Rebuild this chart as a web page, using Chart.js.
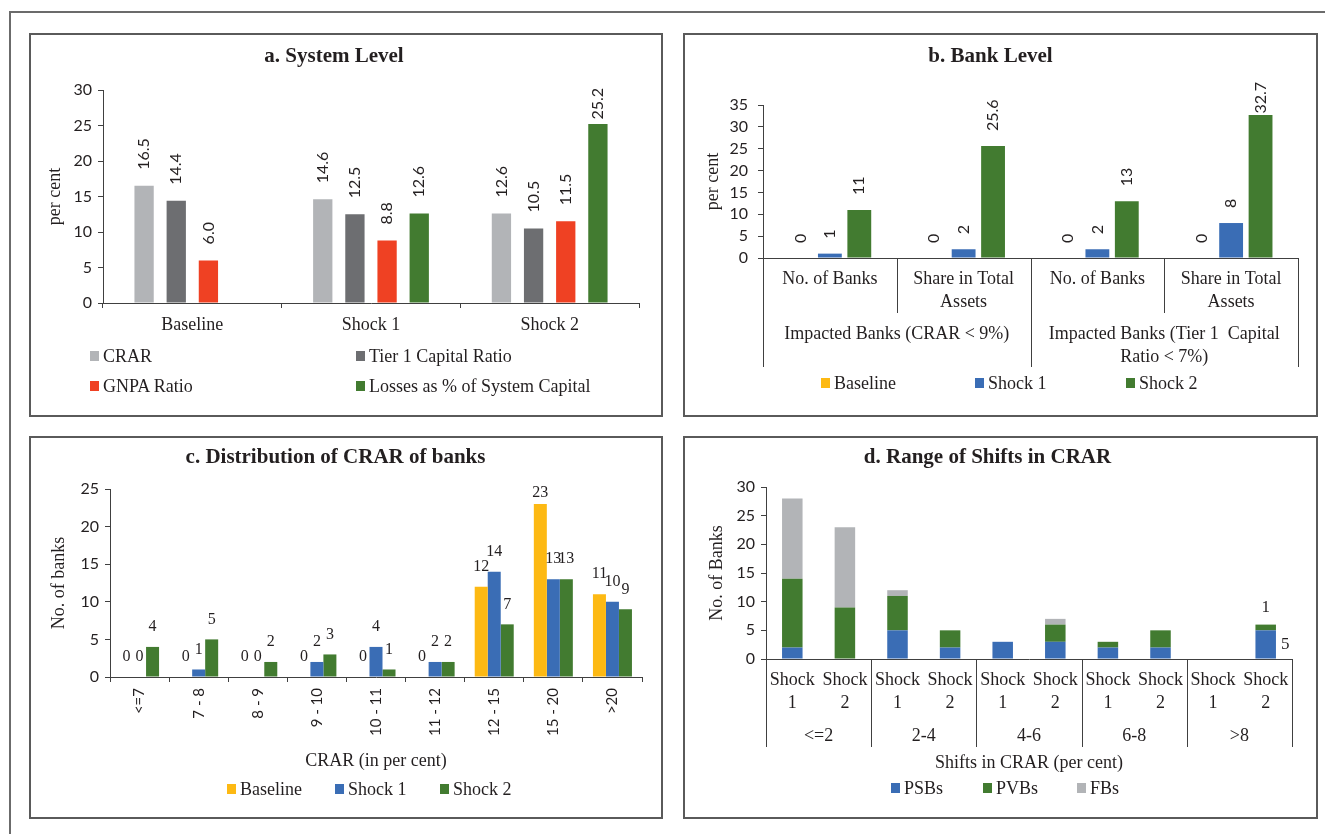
<!DOCTYPE html>
<html>
<head>
<meta charset="utf-8">
<script src="https://cdn.jsdelivr.net/npm/chart.js@4.4.1/dist/chart.umd.min.js"></script>
<style>
  html, body { margin: 0; padding: 0; background: #ffffff; }
  body { width: 1325px; height: 834px; overflow: hidden; position: relative;
         font-family: "Liberation Serif", serif; color: #231f20; }
  .frame { position: absolute; left: 9px; top: 11px; width: 1400px; height: 900px;
           border-left: 2px solid #6b6b6b; border-top: 2px solid #6b6b6b; }
  .panel { position: absolute; border: 2px solid #5a5a5a; box-sizing: border-box; pointer-events: none; }
  canvas { position: absolute; }
  .leg { position: absolute; display: flex; align-items: center; height: 20px;
         font-size: 18px; white-space: nowrap; color: #231f20; }
  .leg i { display: inline-block; width: 9px; height: 10px; margin-right: 4px; }
</style>
</head>
<body>
<div class="frame"></div>
<canvas id="ca" width="616" height="383" style="left:29px;top:33px"></canvas>
<canvas id="cb" width="634" height="383" style="left:683px;top:33px"></canvas>
<canvas id="cc" width="633" height="382" style="left:29px;top:436px"></canvas>
<canvas id="cd" width="634" height="382" style="left:683px;top:436px"></canvas>
<div class="panel" style="left:29px;top:33px;width:634px;height:384px"></div>
<div class="panel" style="left:683px;top:33px;width:635px;height:384px"></div>
<div class="panel" style="left:29px;top:436px;width:634px;height:383px"></div>
<div class="panel" style="left:683px;top:436px;width:635px;height:383px"></div>
<script>
// ---------------- DATA ----------------
// a. System Level
const aCategories = ['Baseline', 'Shock 1', 'Shock 2'];
const aCRAR   = [16.5, 14.6, 12.6];
const aTier1  = [14.4, 12.5, 10.5];
const aGNPA   = [6.0, 8.8, 11.5];
const aLosses = [null, 12.6, 25.2];
const aTicks  = [0, 5, 10, 15, 20, 25, 30];

// b. Bank Level
const bCategories = [['No. of Banks'], ['Share in Total', 'Assets'], ['No. of Banks'], ['Share in Total', 'Assets']];
const bGroups     = [['Impacted Banks (CRAR < 9%)'], ['Impacted Banks (Tier 1  Capital', 'Ratio < 7%)']];
const bBaseline   = [0, 0, 0, 0];
const bShock1     = [1, 2, 2, 8];
const bShock2     = [11, 25.6, 13, 32.7];
const bTicks      = [0, 5, 10, 15, 20, 25, 30, 35];

// c. Distribution of CRAR of banks
const cCategories = ['<=7', '7 - 8', '8 - 9', '9 - 10', '10 - 11', '11 - 12', '12 - 15', '15 - 20', '>20'];
const cBaseline   = [0, 0, 0, 0, 0, 0, 12, 23, 11];
const cShock1     = [0, 1, 0, 2, 4, 2, 14, 13, 10];
const cShock2     = [4, 5, 2, 3, 1, 2, 7, 13, 9];
const cTicks      = [0, 5, 10, 15, 20, 25];

// d. Range of Shifts in CRAR
const dCategories = [['Shock', '1'], ['Shock', '2'], ['Shock', '1'], ['Shock', '2'], ['Shock', '1'],
                     ['Shock', '2'], ['Shock', '1'], ['Shock', '2'], ['Shock', '1'], ['Shock', '2']];
const dGroups = ['<=2', '2-4', '4-6', '6-8', '>8'];
const dPSBs   = [2, 0, 5, 2, 3, 3, 2, 2, 0, 5];
const dPVBs   = [12, 9, 6, 3, 0, 3, 1, 3, 0, 1];
const dFBs    = [14, 14, 1, 0, 0, 1, 0, 0, 0, 0];
const dTicks  = [0, 5, 10, 15, 20, 25, 30];
const dLabelled = [{dataset: 1, index: 9, place: 'top'}, {dataset: 0, index: 9, place: 'right'}];

// ---------------- STYLE ----------------
const TXT = '#231f20', AXIS = '#404040';
const C_LGRAY = '#b2b4b7', C_DGRAY = '#6d6e71', C_RED = '#ef4123', C_GREEN = '#427b30',
      C_YELLOW = '#fdb913', C_BLUE = '#3a6db5';
const SERIF = "'Liberation Serif', serif", SANS = "Lato, 'Liberation Sans', sans-serif";
const FS = 18;          // serif label size
const TFS = 21;         // title size

Chart.defaults.font.family = SERIF;
Chart.defaults.color = TXT;
Chart.defaults.animation = false;

// value labels
const barLabelPlugin = {
  id: 'barLabels',
  afterDatasetsDraw(chart, args, opts) {
    if (!opts || !opts.mode) return;
    const ctx = chart.ctx, area = chart.chartArea;
    ctx.save();
    ctx.fillStyle = opts.color || TXT;
    ctx.font = opts.font;
    chart.data.datasets.forEach((ds, di) => {
      const meta = chart.getDatasetMeta(di);
      meta.data.forEach((el, i) => {
        const v = ds.data[i];
        if (v === null || v === undefined) return;
        let place = opts.mode;
        if (opts.items) {
          const it = opts.items.find(t => t.dataset === di && t.index === i);
          if (!it) return;
          place = it.place;
        }
        const txt = opts.format ? opts.format(v) : String(v);
        if (place === 'rotated') {
          const len = ctx.measureText(txt).width;
          let start = el.y - opts.offset;
          if (opts.limitTop !== undefined && start - len < opts.limitTop) start = opts.limitTop + len;
          ctx.save();
          ctx.translate(el.x, start);
          ctx.rotate(-Math.PI / 2);
          ctx.textAlign = 'left'; ctx.textBaseline = 'middle';
          ctx.fillText(txt, 0, 0);
          ctx.restore();
        } else if (place === 'top') {
          const y = Math.max(el.y - opts.offset, area.top + (opts.minTop || 0));
          ctx.textAlign = 'center'; ctx.textBaseline = 'middle';
          ctx.fillText(txt, el.x, y);
        } else if (place === 'right') {
          ctx.textAlign = 'left'; ctx.textBaseline = 'middle';
          ctx.fillText(txt, el.x + el.width / 2 + (opts.sideGap || 6), (el.y + el.base) / 2);
        }
      });
    });
    ctx.restore();
  }
};

// separator lines of the multi-level category axis
const groupLinePlugin = {
  id: 'groupLines',
  afterDraw(chart, args, opts) {
    if (!opts || !opts.lengths) return;
    const sc = chart.scales.x;
    const n = sc.ticks.length;
    const p0 = sc.getPixelForValue(0), w = sc.getPixelForValue(1) - p0;
    const ctx = chart.ctx;
    ctx.save();
    ctx.strokeStyle = opts.color || AXIS;
    ctx.lineWidth = 1;
    for (let i = 0; i <= n; i++) {
      const len = opts.lengths[i];
      if (!len) continue;
      const x = Math.round(p0 - w / 2 + i * w) + 0.5;
      ctx.beginPath(); ctx.moveTo(x, sc.top); ctx.lineTo(x, sc.top + len); ctx.stroke();
    }
    ctx.restore();
  }
};

function yScale(ticks, width) {
  return {
    min: ticks[0], max: ticks[ticks.length - 1],
    afterBuildTicks: s => { s.ticks = ticks.map(v => ({value: v})); },
    ticks: {font: {family: SANS, size: 16}, padding: 6, color: TXT, autoSkip: false},
    grid: {drawOnChartArea: false, tickLength: 5, color: AXIS},
    border: {color: AXIS},
    afterFit: s => { s.width = width; }
  };
}

function htmlLegend(chart, spots) {
  chart.data.datasets.forEach((ds, i) => {
    const item = document.createElement('div');
    item.className = 'leg';
    item.style.left = spots[i][0] + 'px';
    item.style.top = (spots[i][1] - 10) + 'px';
    const box = document.createElement('i');
    box.style.background = ds.backgroundColor;
    item.appendChild(box);
    item.appendChild(document.createTextNode(ds.label));
    document.body.appendChild(item);
  });
}

const noTip = {legend: {display: false}, tooltip: {enabled: false}};
const noGrid = {display: false, drawTicks: false, tickLength: 0};

// ---------------- a ----------------
const ya = yScale(aTicks, 74);
ya.title = {display: true, text: 'per cent', font: {size: FS}, padding: {top: 15, bottom: 0}, color: TXT};
const chartA = new Chart(document.getElementById('ca'), {
  type: 'bar',
  data: {
    labels: aCategories,
    datasets: [
      {label: 'CRAR', data: aCRAR, backgroundColor: C_LGRAY},
      {label: 'Tier 1  Capital Ratio', data: aTier1, backgroundColor: C_DGRAY},
      {label: 'GNPA Ratio', data: aGNPA, backgroundColor: C_RED},
      {label: 'Losses as % of System Capital', data: aLosses, backgroundColor: C_GREEN}
    ].map(d => Object.assign(d, {categoryPercentage: 0.72, barPercentage: 0.6}))
  },
  options: {
    responsive: false, animation: false, devicePixelRatio: 1,
    layout: {padding: {left: 0, right: 6, top: 0, bottom: 0}},
    plugins: Object.assign({}, noTip, {
      title: {display: true, text: 'a. System Level', font: {size: TFS, weight: 'bold'},
              padding: {top: 11.4, bottom: 20.4}, color: TXT},
      barLabels: {mode: 'rotated', offset: 16, limitTop: 55, font: '16px ' + SANS, format: v => v.toFixed(1)}
    }),
    scales: {
      x: {
        grid: {drawOnChartArea: false, tickLength: 5, color: AXIS, offset: true},
        border: {color: AXIS},
        ticks: {font: {size: FS}, padding: 6, color: TXT, maxRotation: 0},
        afterFit: s => { s.height = 113; }
      },
      y: ya
    }
  },
  plugins: [barLabelPlugin]
});
htmlLegend(chartA, [[90, 356], [356, 356], [90, 386], [356, 386]]);

// ---------------- b ----------------
const yb = yScale(bTicks, 80);
yb.ticks.padding = 10;
yb.title = {display: true, text: 'per cent', font: {size: FS}, padding: {top: 19, bottom: 0}, color: TXT};
const chartB = new Chart(document.getElementById('cb'), {
  type: 'bar',
  data: {
    labels: bCategories,
    datasets: [
      {label: 'Baseline', data: bBaseline, backgroundColor: C_YELLOW},
      {label: 'Shock 1', data: bShock1, backgroundColor: C_BLUE},
      {label: 'Shock 2', data: bShock2, backgroundColor: C_GREEN}
    ].map(d => Object.assign(d, {xAxisID: 'x', categoryPercentage: 0.66, barPercentage: 0.81}))
  },
  options: {
    responsive: false, animation: false, devicePixelRatio: 1,
    layout: {padding: {left: 0, right: 19, top: 0, bottom: 0}},
    plugins: Object.assign({}, noTip, {
      title: {display: true, text: 'b. Bank Level', font: {size: TFS, weight: 'bold'},
              padding: {top: 11.4, bottom: 35.4}, color: TXT},
      barLabels: {mode: 'rotated', offset: 15, limitTop: 49, font: '16px ' + SANS, format: v => String(v)},
      groupLines: {lengths: [109, 55, 109, 55, 109], color: AXIS}
    }),
    scales: {
      x: {
        weight: 0, offset: true,
        grid: noGrid,
        border: {color: AXIS},
        ticks: {font: {size: FS, lineHeight: 1.28}, padding: 9.5, color: TXT, maxRotation: 0, autoSkip: false},
        afterFit: s => { s.height = 55; }
      },
      x2: {
        type: 'category', position: 'bottom', weight: 1, offset: true,
        labels: bGroups,
        grid: noGrid, border: {display: false},
        ticks: {font: {size: FS, lineHeight: 1.24}, padding: 10.5, color: TXT, maxRotation: 0, autoSkip: false},
        afterFit: s => { s.height = 103; }
      },
      y: yb
    }
  },
  plugins: [barLabelPlugin, groupLinePlugin]
});
htmlLegend(chartB, [[821, 383], [975, 383], [1126, 383]]);

// ---------------- c ----------------
const yc = yScale(cTicks, 81);
yc.title = {display: true, text: 'No. of banks', font: {size: FS}, padding: {top: 19, bottom: 0}, color: TXT};
const chartC = new Chart(document.getElementById('cc'), {
  type: 'bar',
  data: {
    labels: cCategories,
    datasets: [
      {label: 'Baseline', data: cBaseline, backgroundColor: C_YELLOW},
      {label: 'Shock 1', data: cShock1, backgroundColor: C_BLUE},
      {label: 'Shock 2', data: cShock2, backgroundColor: C_GREEN}
    ].map(d => Object.assign(d, {categoryPercentage: 0.66, barPercentage: 1.0}))
  },
  options: {
    responsive: false, animation: false, devicePixelRatio: 1,
    layout: {padding: {left: 0, right: 20, top: 0, bottom: 0}},
    plugins: Object.assign({}, noTip, {
      title: {display: true, text: 'c. Distribution of CRAR of banks', font: {size: TFS, weight: 'bold'},
              padding: {top: 9.4, bottom: 18.4}, color: TXT},
      barLabels: {mode: 'top', offset: 20, minTop: 4, font: '16px ' + SERIF, format: v => String(v)}
    }),
    scales: {
      x: {
        grid: {drawOnChartArea: false, tickLength: 5, color: AXIS, offset: true},
        border: {color: AXIS},
        ticks: {font: {family: SANS, size: 15}, padding: 6, color: TXT, minRotation: 90, maxRotation: 90, autoSkip: false},
        title: {display: true, text: 'CRAR (in per cent)', font: {size: FS}, padding: {top: 0, bottom: 46}, color: TXT},
        afterFit: s => { s.height = 141; }
      },
      y: yc
    }
  },
  plugins: [barLabelPlugin]
});
htmlLegend(chartC, [[227, 789], [335, 789], [440, 789]]);

// ---------------- d ----------------
const yd = yScale(dTicks, 83);
yd.title = {display: true, text: 'No. of Banks', font: {size: FS}, padding: {top: 23, bottom: 0}, color: TXT};
const dLines = [];
for (let i = 0; i <= dCategories.length; i++) dLines.push(i % 2 === 0 ? 88 : 0);
const chartD = new Chart(document.getElementById('cd'), {
  type: 'bar',
  data: {
    labels: dCategories,
    datasets: [
      {label: 'PSBs', data: dPSBs, backgroundColor: C_BLUE},
      {label: 'PVBs', data: dPVBs, backgroundColor: C_GREEN},
      {label: 'FBs', data: dFBs, backgroundColor: C_LGRAY}
    ].map(d => Object.assign(d, {xAxisID: 'x', categoryPercentage: 0.78, barPercentage: 0.5}))
  },
  options: {
    responsive: false, animation: false, devicePixelRatio: 1,
    layout: {padding: {left: 0, right: 25, top: 0, bottom: 0}},
    plugins: Object.assign({}, noTip, {
      title: {display: true, text: 'd. Range of Shifts in CRAR', font: {size: TFS, weight: 'bold'},
              padding: {top: 9.4, bottom: 16.4}, color: TXT},
      barLabels: {mode: 'top', items: dLabelled, offset: 17, sideGap: 5, font: '17px ' + SERIF, format: v => String(v)},
      groupLines: {lengths: dLines, color: AXIS}
    }),
    scales: {
      x: {
        stacked: true, weight: 0, offset: true,
        grid: noGrid,
        border: {color: AXIS},
        ticks: {font: {size: FS, lineHeight: 1.28}, padding: 9.5, color: TXT, maxRotation: 0, autoSkip: false},
        afterFit: s => { s.height = 56; }
      },
      x2: {
        type: 'category', position: 'bottom', weight: 1, offset: true,
        labels: dGroups,
        grid: noGrid, border: {display: false},
        ticks: {font: {size: FS}, padding: 10, color: TXT, maxRotation: 0, autoSkip: false},
        title: {display: true, text: 'Shifts in CRAR (per cent)', font: {size: FS}, padding: {top: 0, bottom: 44}, color: TXT},
        afterFit: s => { s.height = 103; }
      },
      y: Object.assign(yd, {stacked: true})
    }
  },
  plugins: [barLabelPlugin, groupLinePlugin]
});
htmlLegend(chartD, [[891, 788], [983, 788], [1077, 788]]);
</script>
</body>
</html>
